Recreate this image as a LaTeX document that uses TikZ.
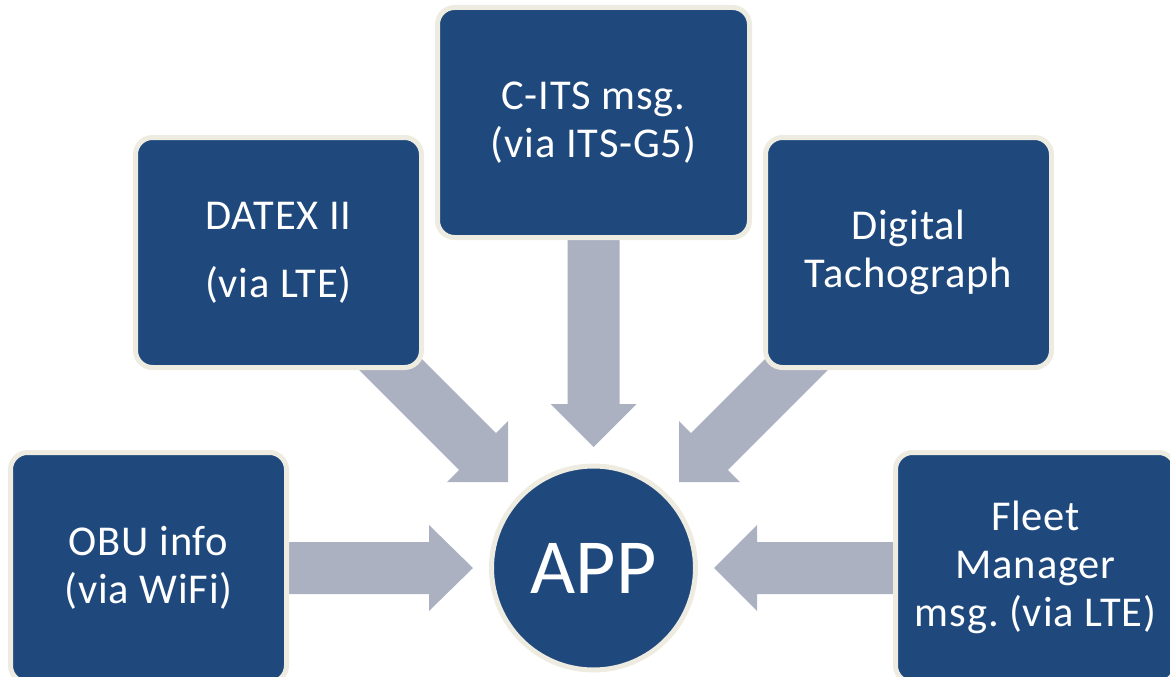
\documentclass[tikz,border=0pt]{standalone}
\usepackage{fontspec}
\setmainfont{Carlito}
\newfontfamily\boxfont[LetterSpace=2]{Carlito}
\definecolor{navy}{HTML}{1F497D}
\definecolor{cream}{HTML}{EEECE1}
\definecolor{arrowgray}{HTML}{ABB1C0}
\frenchspacing
\begin{document}
\begin{tikzpicture}[x=1pt,y=-1pt,
  box/.style={draw=cream, line width=5pt, fill=navy, rounded corners=17pt,
    text=white, align=center, inner sep=0pt, minimum height=230pt,
    font=\boxfont\fontsize{42.5}{48}\selectfont\frenchspacing},
  hub/.style={circle, draw=cream, line width=5pt, fill=navy, text=white,
    inner sep=0pt, minimum size=204pt, font=\fontsize{78}{90}\selectfont},
  blockarrow/.style={fill=arrowgray}]
\useasboundingbox (0,0) rectangle (1170,677);
% block arrows (drawn first, boxes cover their tails)
\fill[blockarrow] (280,542) -- (429,542) -- (429,525) -- (473,568) -- (429,611) -- (429,594) -- (280,594) -- cycle;
\fill[blockarrow] (900,542) -- (757,542) -- (757,525) -- (714,568) -- (757,611) -- (757,594) -- (900,594) -- cycle;
\fill[blockarrow] (567.5,230) -- (567.5,404) -- (550.5,404) -- (593.5,447) -- (636.5,404) -- (619.5,404) -- (619.5,230) -- cycle;
\fill[blockarrow] (341.6,352.4) -- (459.2,470) -- (447,482) -- (508,482) -- (508,421) -- (496,433.2) -- (378.4,315.6) -- cycle;
\fill[blockarrow] (845.4,352.4) -- (727.8,470) -- (740,482) -- (679,482) -- (679,421) -- (691,433.2) -- (808.6,315.6) -- cycle;
% boxes
\node[box, minimum width=276pt] (obu) at (148.5,567.5) {OBU info\\(via WiFi)};
\node[box, minimum width=286pt] (datex) at (278.5,252.5) {DATEX II\\[20pt](via LTE)};
\node[box, minimum width=312pt] (cits) at (593.5,122.5) {C-ITS msg.\\(via ITS-G5)};
\node[box, minimum width=286pt] (tacho) at (908.5,252.5) {Digital\\Tachograph};
\node[box, minimum width=280pt] (fleet) at (1035.5,567.5) {Fleet\\Manager\\msg. (via LTE)};
\node[hub] (app) at (593.5,568) {APP};
\end{tikzpicture}
\end{document}
